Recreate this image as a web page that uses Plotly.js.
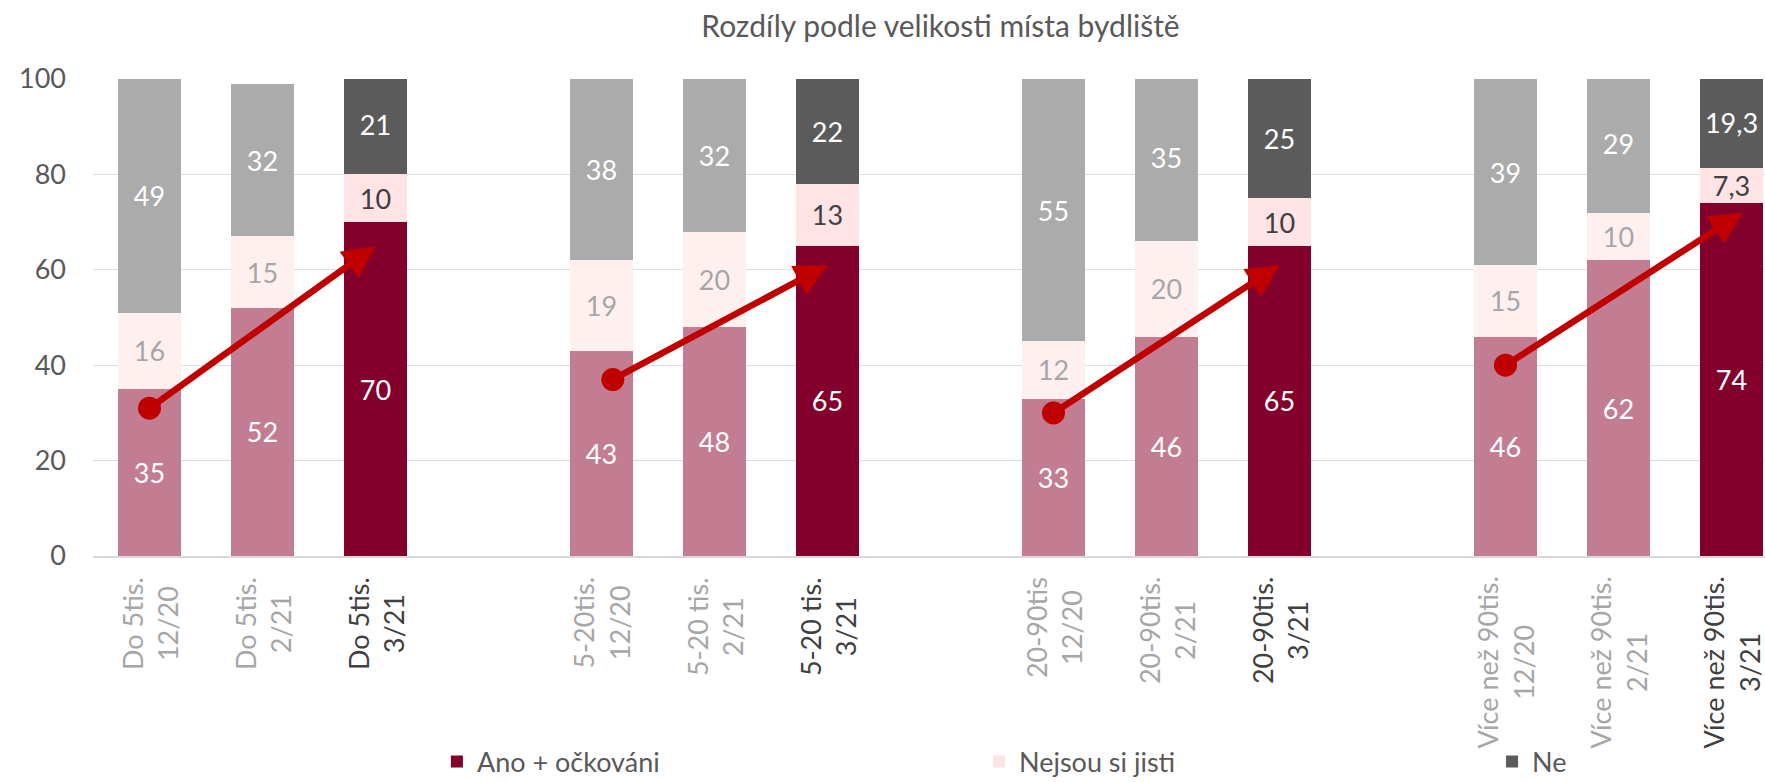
<!DOCTYPE html>
<html>
<head>
<meta charset="utf-8">
<script src="https://cdn.plot.ly/plotly-3.0.1.min.js"></script>
<style>
html,body{margin:0;padding:0;overflow:hidden;background:#ffffff;}
#chart{width:1800px;height:782px;}
</style>
</head>
<body>
<div id="chart"></div>
<script>
// ---- data ----
const chartTitle = "Rozdíly podle velikosti místa bydliště";
const groupNames = ["Do 5tis.", "5-20tis.", "20-90tis", "Více než 90tis."];
const periods = ["12/20", "2/21", "3/21"];
const tickLabels = [
  "Do 5tis.<br>12/20", "Do 5tis.<br>2/21", "Do 5tis.<br>3/21",
  "5-20tis.<br>12/20", "5-20 tis.<br>2/21", "5-20 tis.<br>3/21",
  "20-90tis<br>12/20", "20-90tis.<br>2/21", "20-90tis.<br>3/21",
  "Více než 90tis.<br>12/20", "Více než 90tis.<br>2/21", "Více než 90tis.<br>3/21"
];
const seriesNames = ["Ano + očkováni", "Nejsou si jisti", "Ne"];
const ano    = [35, 52, 70, 43, 48, 65, 33, 46, 65, 46, 62, 74];
const nejsou = [16, 15, 10, 19, 20, 13, 12, 20, 10, 15, 10, 7.3];
const ne     = [49, 32, 21, 38, 32, 22, 55, 35, 25, 39, 29, 19.3];
const yTicks = [0, 20, 40, 60, 80, 100];
// arrows (start dot -> arrow head), x in bar-slot units, y in %
const arrowFromSlot = [0, 4.1, 8, 12];
const arrowFromVal  = [31, 37, 30, 40];
const arrowToSlot   = [2, 6, 10, 14.1];
const arrowToVal    = [65, 61, 61, 72];

// ---- styling ----
const FONT = "Lato, 'Noto Sans', sans-serif";
const barColors  = [["#C27D93", "#83002D"], ["#FFF0F0", "#FFE3E5"], ["#ABABAB", "#5B5B5B"]];
const textColors = [["#FFFFFF", "#FFFFFF"], ["#A6A6A6", "#404040"], ["#FFFFFF", "#FFFFFF"]];
const labelColors = ["#A6A6A6", "#404040"];
const legendIds = ["legend", "legend2", "legend3"];

// slot position of each bar: one empty slot between groups
const slots = tickLabels.map((_, i) => Math.floor(i / periods.length) * (periods.length + 1) + (i % periods.length));
const isCurrent = tickLabels.map((_, i) => (i % periods.length) === periods.length - 1 ? 1 : 0);
const fmt = v => String(v).replace('.', ',');

const allSeries = [ano, nejsou, ne];
const traces = [];
allSeries.forEach((vals, s) => {
  [0, 1].forEach(cur => {
    const idx = vals.map((_, i) => i).filter(i => isCurrent[i] === cur);
    traces.push({
      type: 'bar',
      name: seriesNames[s],
      legend: legendIds[s],
      showlegend: cur === 1,
      x: idx.map(i => slots[i]),
      y: idx.map(i => vals[i]),
      text: idx.map(i => fmt(vals[i])),
      width: 0.55,
      marker: {color: barColors[s][cur], line: {width: 0}},
      textposition: 'inside',
      insidetextanchor: 'middle',
      constraintext: 'none',
      textangle: 0,
      textfont: {family: FONT, size: 27, color: textColors[s][cur]},
      hoverinfo: 'skip'
    });
  });
});

traces.push({
  type: 'scatter',
  mode: 'markers',
  x: arrowFromSlot,
  y: arrowFromVal,
  marker: {size: 23, color: '#C00000'},
  showlegend: false,
  hoverinfo: 'skip'
});

const annotations = [];
arrowFromSlot.forEach((_, k) => {
  annotations.push({
    x: arrowToSlot[k], y: arrowToVal[k],
    ax: arrowFromSlot[k], ay: arrowFromVal[k],
    xref: 'x', yref: 'y', axref: 'x', ayref: 'y',
    text: '', showarrow: true,
    arrowhead: 2, arrowsize: 1.0, arrowwidth: 6.5, arrowcolor: '#C00000', standoff: 0
  });
});
tickLabels.forEach((t, i) => {
  annotations.push({
    x: slots[i], y: -0.04, xref: 'x', yref: 'paper',
    text: t, textangle: -90, showarrow: false,
    xanchor: 'center', yanchor: 'top', align: 'center',
    font: {family: FONT, size: 27, color: labelColors[isCurrent[i]]}
  });
});

const legendX = [0.2029, 0.5227, 0.8254];
const legendBase = {
  orientation: 'h', xanchor: 'left',
  yref: 'container', y: 20 / 782, yanchor: 'middle',
  font: {family: FONT, size: 27, color: '#595959'}, bgcolor: 'rgba(0,0,0,0)'
};

const layout = {
  width: 1800, height: 782,
  margin: {l: 93, r: 12, t: 79, b: 226, autoexpand: false},
  paper_bgcolor: '#ffffff', plot_bgcolor: '#ffffff',
  barmode: 'stack',
  title: {
    text: chartTitle, x: 0.5, xref: 'paper', xanchor: 'center',
    y: 1 - 16 / 782, yref: 'container', yanchor: 'top',
    font: {family: FONT, size: 30, color: '#595959'}
  },
  xaxis: {
    type: 'linear', range: [-0.5, 14.5], showgrid: false, zeroline: false,
    showline: true, linecolor: '#D9D9D9', linewidth: 1.5,
    showticklabels: false, ticks: '', fixedrange: true
  },
  yaxis: {
    range: [0, 100], tickvals: yTicks, ticktext: yTicks.map(String),
    showgrid: true, gridcolor: '#DEDEDE', gridwidth: 1.3, zeroline: false, showline: false,
    ticks: '', ticklabelstandoff: 26,
    tickfont: {family: FONT, size: 27, color: '#595959'}, fixedrange: true
  },
  legend:  Object.assign({}, legendBase, {x: legendX[0]}),
  legend2: Object.assign({}, legendBase, {x: legendX[1]}),
  legend3: Object.assign({}, legendBase, {x: legendX[2]}),
  annotations: annotations,
  showlegend: true
};

Plotly.newPlot('chart', traces, layout, {displayModeBar: false, staticPlot: true});
</script>
</body>
</html>
